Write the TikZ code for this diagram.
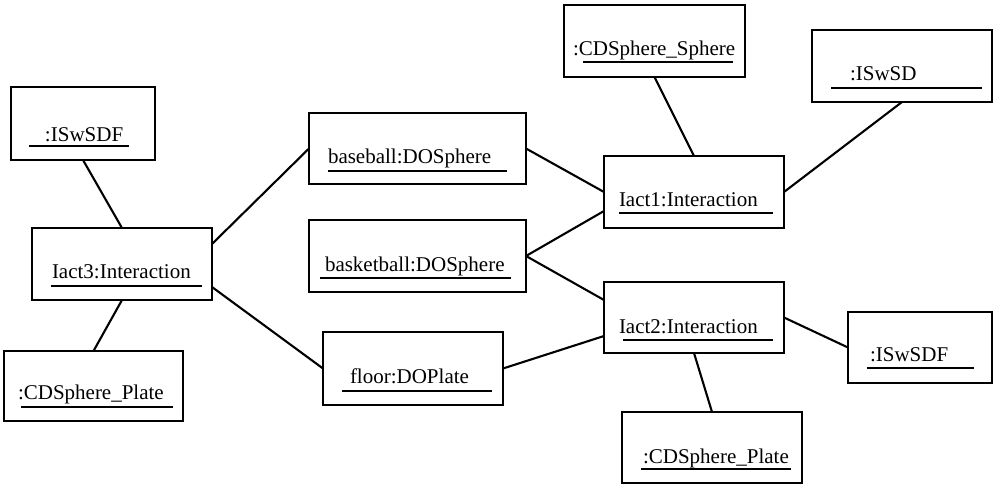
\documentclass[tikz,border=0pt]{standalone}
\usepackage{fontspec}
\setmainfont{Liberation Serif}
\begin{document}
\begin{tikzpicture}[x=1pt,y=-1pt,
  obj/.style={draw,line width=2.2pt,inner sep=0pt,outer sep=0pt},
  lbl/.style={anchor=base west,inner sep=0pt,outer sep=0pt,font=\fontsize{21}{25}\selectfont},
  link/.style={line width=2.1pt},
  uline/.style={line width=2.5pt}]
\useasboundingbox (0,0) rectangle (994,485);

% object boxes
\node[obj,minimum width=144pt,minimum height=73pt] (lswsdf) at (83,123.5) {};
\node[obj,minimum width=180pt,minimum height=72pt] (iact3) at (122,264) {};
\node[obj,minimum width=179pt,minimum height=70pt] (lplate) at (93.5,386) {};
\node[obj,minimum width=217pt,minimum height=71pt] (baseball) at (417.5,148.5) {};
\node[obj,minimum width=217pt,minimum height=72pt] (basketball) at (417.5,256) {};
\node[obj,minimum width=180pt,minimum height=73pt] (floor) at (413,368.5) {};
\node[obj,minimum width=181pt,minimum height=72pt] (sphere) at (654.5,41) {};
\node[obj,minimum width=180pt,minimum height=72pt] (iact1) at (694,192) {};
\node[obj,minimum width=180pt,minimum height=71pt] (iact2) at (694,317.5) {};
\node[obj,minimum width=180pt,minimum height=72pt] (iswsd) at (902,66) {};
\node[obj,minimum width=144pt,minimum height=71pt] (rswsdf) at (920,347.5) {};
\node[obj,minimum width=180pt,minimum height=71pt] (bplate) at (712,447.5) {};

% object names, underlined
\node[lbl] (t-lswsdf) at (45,141) {:ISwSDF};
\draw[uline] (29,146) -- (129,146);
\node[lbl] (t-iact3) at (52,278) {Iact3:Interaction};
\draw[uline] (51,286) -- (202,286);
\node[lbl] (t-lplate) at (18,399) {:CDSphere\_Plate};
\draw[uline] (21,407) -- (173,407);
\node[lbl] (t-baseball) at (328,163) {baseball:DOSphere};
\draw[uline] (328,171) -- (507,171);
\node[lbl] (t-basketball) at (325,271) {basketball:DOSphere};
\draw[uline] (320,278) -- (511,278);
\node[lbl] (t-floor) at (350,383) {floor:DOPlate};
\draw[uline] (342,391) -- (492,391);
\node[lbl] (t-sphere) at (573,55) {:CDSphere\_Sphere};
\draw[uline] (583,62) -- (733,62);
\node[lbl] (t-iact1) at (619,206) {Iact1:Interaction};
\draw[uline] (619,213) -- (773,213);
\node[lbl] (t-iact2) at (619,333) {Iact2:Interaction};
\draw[uline] (623,340) -- (773,340);
\node[lbl] (t-iswsd) at (850,80) {:ISwSD};
\draw[uline] (831,88) -- (982,88);
\node[lbl] (t-rswsdf) at (870,361) {:ISwSDF};
\draw[uline] (867,368) -- (974,368);
\node[lbl] (t-bplate) at (643,463) {:CDSphere\_Plate};
\draw[uline] (641,469) -- (791,469);

% links between objects
\draw[link] (lswsdf.south) -- (iact3.north);
\draw[link] (iact3.south) -- (lplate.north);
\draw[link] ([yshift=-16pt]iact3.north east) -- (baseball.west);
\draw[link] ([yshift=13pt]iact3.south east) -- (floor.west);
\draw[link] (baseball.east) -- (iact1.west);
\draw[link] (sphere.south) -- (iact1.north);
\draw[link] (iact1.east) -- (iswsd.south);
\draw[link] (basketball.east) -- ([yshift=-19pt]iact1.west);
\draw[link] (basketball.east) -- ([yshift=17.5pt]iact2.west);
\draw[link] (floor.east) -- ([yshift=-18.5pt]iact2.west);
\draw[link] (iact2.east) -- (rswsdf.west);
\draw[link] (iact2.south) -- (bplate.north);
\end{tikzpicture}
\end{document}
